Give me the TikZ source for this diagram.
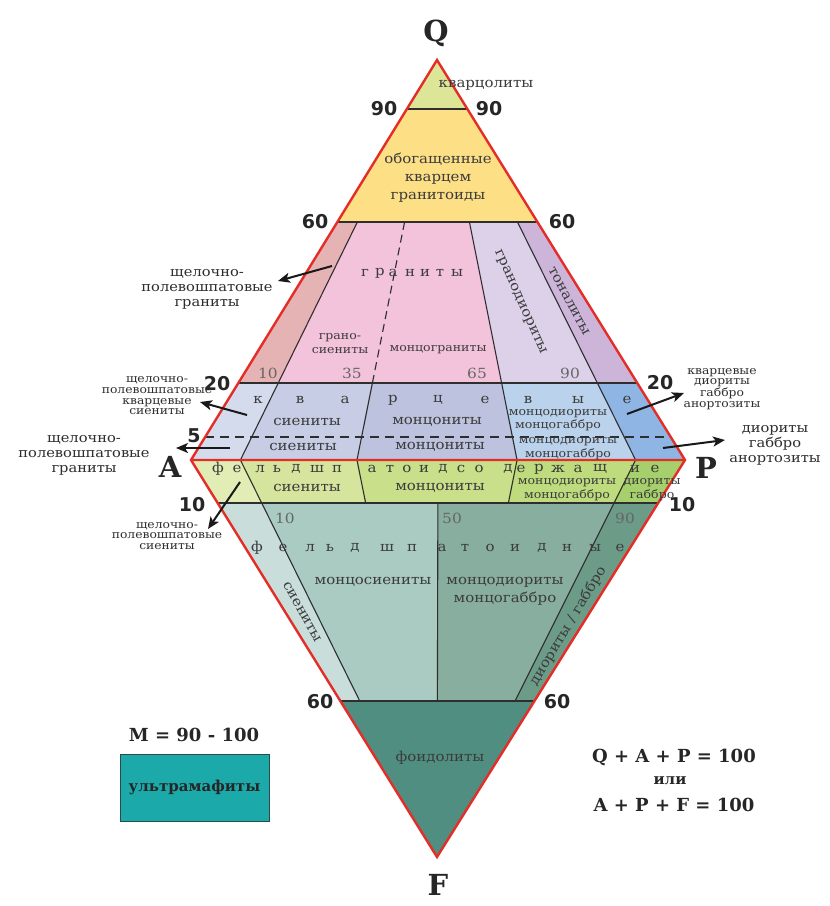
\documentclass[tikz,border=0pt]{standalone}
\usepackage{fontspec}
\usetikzlibrary{calc,arrows.meta}
\newfontfamily\labf[FakeStretch=1.1]{DejaVu Serif}
\newfontfamily\numf{DejaVu Sans}
\newfontfamily\vtxf{DejaVu Serif}
\definecolor{txt}{HTML}{3C3C3C}
\definecolor{sidec}{HTML}{2E2E2E}
\definecolor{gtxt}{HTML}{666666}
\definecolor{redl}{HTML}{E42D27}
\definecolor{divc}{HTML}{2E2E2E}
\definecolor{cQz}{HTML}{DDE596}
\definecolor{cQg}{HTML}{FDDF86}
\definecolor{cAg}{HTML}{E6B3B5}
\definecolor{cGr}{HTML}{F3C3DC}
\definecolor{cGd}{HTML}{DDD1E9}
\definecolor{cTo}{HTML}{CDB5DA}
\definecolor{cqa}{HTML}{D4DBEC}
\definecolor{cqb}{HTML}{C6CDE4}
\definecolor{cqc}{HTML}{BDC2DE}
\definecolor{cqd}{HTML}{BAD2EC}
\definecolor{cqe}{HTML}{8EB5E3}
\definecolor{cfa}{HTML}{E2ECB5}
\definecolor{cfb}{HTML}{D6E59E}
\definecolor{cfc}{HTML}{CADF89}
\definecolor{cfd}{HTML}{BEDC7D}
\definecolor{cfe}{HTML}{A6D06B}
\definecolor{cla}{HTML}{C9DEDB}
\definecolor{clb}{HTML}{A9CBC2}
\definecolor{clc}{HTML}{88AE9F}
\definecolor{cld}{HTML}{6C9C88}
\definecolor{cFo}{HTML}{4F8E80}
\definecolor{cUm}{HTML}{1BA9AA}
\definecolor{boxb}{HTML}{2A4A50}
\tikzset{
  every node/.style={inner sep=0pt, outer sep=0pt, align=center},
  fL/.style={font=\labf\fontsize{13.6}{18}\selectfont, text=txt},
  fS/.style={font=\labf\fontsize{11.4}{13.5}\selectfont, text=txt},
  sideL/.style={font=\labf\fontsize{13.3}{15}\selectfont, text=sidec},
  sideS/.style={font=\labf\fontsize{11.2}{10.7}\selectfont, text=sidec},
  gnum/.style={font=\labf\fontsize{14}{14}\selectfont, text=gtxt},
  bnum/.style={font=\numf\bfseries\fontsize{19}{19}\selectfont, text=black!85},
  vtx/.style={font=\vtxf\bfseries\fontsize{29}{29}\selectfont, anchor=base, text=black!85},
  eqt/.style={font=\vtxf\bfseries\fontsize{18}{18}\selectfont, text=black!85},
  rimline/.style={draw=redl, line width=2.4pt, line join=miter},
  divline/.style={draw=divc, line width=1.1pt},
  arr/.style={-{Stealth[length=12pt,width=10pt,inset=3pt]}, line width=2pt, draw=black!90},
}
\begin{document}
\begin{tikzpicture}[x=1pt,y=-1pt]
\useasboundingbox (0,0) rectangle (830,906);
\fill[white] (0,0) rectangle (830,906);
% vertices
\coordinate (A) at (191,460);
\coordinate (P) at (685,460);
\coordinate (Q) at (437,60);
\coordinate (F) at (437,857);
\foreach \n/\t in {90/0.8775,60/0.595,20/0.1925,5/0.0575}{
  \coordinate (ql\n) at ($(A)!\t!(Q)$);
  \coordinate (qr\n) at ($(P)!\t!(Q)$);
}
\foreach \n/\t in {10/0.1083,60/0.607}{
  \coordinate (fl\n) at ($(A)!\t!(F)$);
  \coordinate (fr\n) at ($(P)!\t!(F)$);
}
\foreach \n/\r in {10/0.1,35/0.336,50/0.5,65/0.66,90/0.9}
  \coordinate (b\n) at ($(A)!\r!(P)$);
\foreach \n in {10,35,65,90}{
  \coordinate (ua\n) at ($(b\n)!0.595!(Q)$);
  \coordinate (ub\n) at ($(b\n)!0.1925!(Q)$);
}
\foreach \n in {10,35,50,65,90}{
  \coordinate (la\n) at ($(b\n)!0.1083!(F)$);
  \coordinate (lb\n) at ($(b\n)!0.607!(F)$);
}
% fills
\fill[cQz] (Q) -- (ql90) -- (qr90) -- cycle;
\fill[cQg] (ql90) -- (ql60) -- (qr60) -- (qr90) -- cycle;
\fill[cAg] (ql60) -- (ua10) -- (ub10) -- (ql20) -- cycle;
\fill[cGr] (ua10) -- (ua65) -- (ub65) -- (ub10) -- cycle;
\fill[cGd] (ua65) -- (ua90) -- (ub90) -- (ub65) -- cycle;
\fill[cTo] (ua90) -- (qr60) -- (qr20) -- (ub90) -- cycle;
\fill[cqa] (ql20) -- (ub10) -- (b10) -- (A) -- cycle;
\fill[cqb] (ub10) -- (ub35) -- (b35) -- (b10) -- cycle;
\fill[cqc] (ub35) -- (ub65) -- (b65) -- (b35) -- cycle;
\fill[cqd] (ub65) -- (ub90) -- (b90) -- (b65) -- cycle;
\fill[cqe] (ub90) -- (qr20) -- (P) -- (b90) -- cycle;
\fill[cfa] (A) -- (b10) -- (la10) -- (fl10) -- cycle;
\fill[cfb] (b10) -- (b35) -- (la35) -- (la10) -- cycle;
\fill[cfc] (b35) -- (b65) -- (la65) -- (la35) -- cycle;
\fill[cfd] (b65) -- (b90) -- (la90) -- (la65) -- cycle;
\fill[cfe] (b90) -- (P) -- (fr10) -- (la90) -- cycle;
\fill[cla] (fl10) -- (la10) -- (lb10) -- (fl60) -- cycle;
\fill[clb] (la10) -- (la50) -- (lb50) -- (lb10) -- cycle;
\fill[clc] (la50) -- (la90) -- (lb90) -- (lb50) -- cycle;
\fill[cld] (la90) -- (fr10) -- (fr60) -- (lb90) -- cycle;
\fill[cFo] (fl60) -- (fr60) -- (F) -- cycle;
% division lines
\draw[divline] (ql90) -- (qr90) (ql60) -- (qr60) (ql20) -- (qr20)
  (fl10) -- (fr10) (fl60) -- (fr60);
\draw[divline] (ua10) -- (b10) (ua65) -- (b65) (ua90) -- (b90) (ub35) -- (b35);
\draw[divline, dash pattern=on 8pt off 5pt] (ua35) -- (ub35);
\draw[divline, dash pattern=on 9pt off 6pt] (ql5) -- (qr5);
\draw[divline] (b10) -- (lb10) (b35) -- (la35) (b65) -- (la65) (b90) -- (lb90) (la50) -- (lb50);
\draw[rimline] (Q) -- (P) -- (F) -- (A) -- cycle (A) -- (P);
% vertex letters
\node[vtx] (lQ) at (436,41) {Q};
\node[vtx] (lA) at (170,477) {A};
\node[vtx] (lP) at (706,478) {P};
\node[vtx] (lF) at (438,895) {F};
% bold numbers
\node[bnum] (n90l) at (384,109) {90};
\node[bnum] (n90r) at (489,109) {90};
\node[bnum] (n60l) at (315,222) {60};
\node[bnum] (n60r) at (562,222) {60};
\node[bnum] (n20l) at (217,384) {20};
\node[bnum] (n20r) at (660,383) {20};
\node[bnum] (n5) at (194,436) {5};
\node[bnum] (n10l) at (192,505) {10};
\node[bnum] (n10r) at (682,505) {10};
\node[bnum] (n60bl) at (320,702) {60};
\node[bnum] (n60br) at (557,702) {60};
% grey numbers
\node[gnum] (g10) at (268,373) {10};
\node[gnum] (g35) at (352,373) {35};
\node[gnum] (g65) at (477,373) {65};
\node[gnum] (g90) at (570,373) {90};
\node[gnum] (h10) at (285,518) {10};
\node[gnum] (h50) at (452,518) {50};
\node[gnum] (h90) at (625,518) {90};
% field labels
\node[fL] (qzl) at (486,85) {кварцолиты};
\node[fL] (qrg) at (438,178) {обогащенные\\кварцем\\гранитоиды};
\foreach \x/\c [count=\i] in {365/г,380/р,393/а,410/н,425/и,440/т,457/ы}
  \node[fL] (gr\i) at (\x,273) {\c};
\node[fS] (grs) at (340,343.5) {грано-\\сиениты};
\node[fS] (mzg) at (438,350) {монцограниты};
\node[fL, rotate=-66] (grd) at (520,302) {гранодиориты};
\node[fL, rotate=-62] (ton) at (569,301) {тоналиты};
\foreach \x/\c [count=\i] in {258/к,300/в,345/а,393/р,438/ц,485/е,528/в,578/ы,627/е}
  \node[fL] (kv\i) at (\x,400) {\c};
\node[fL] (qs1) at (307,422) {сиениты};
\node[fL] (qm1) at (437,422) {монцониты};
\node[fS] (qd1) at (558,420) {монцодиориты\\монцогаббро};
\node[fL] (qs2) at (303,447) {сиениты};
\node[fL] (qm2) at (440,447) {монцониты};
\node[fS] (qd2) at (568,448.5) {монцодиориты\\монцогаббро};
\foreach \x/\c [count=\i] in {218/ф,237/е,260/л,277/ь,296/д,317/ш,337/п,372/а,390/т,407/о,424/и,443/д,461/с,479/о,508/д,521/е,539/р,558/ж,578/а,600/щ,635/и,655/е}
  \node[fL] (fs\i) at (\x,469) {\c};
\node[fL] (fb1) at (307,488) {сиениты};
\node[fL] (fb2) at (440,488) {монцониты};
\node[fS] (fb3) at (567,489.5) {монцодиориты\\монцогаббро};
\node[fS] (fb4) at (652,489.5) {диориты\\габбро};
\foreach \x/\c [count=\i] in {257/ф,283/е,310/л,330/ь,355/д,387/ш,412/п,442/а,465/т,490/о,515/и,542/д,567/н,595/ы,620/е}
  \node[fL] (fd\i) at (\x,548) {\c};
\node[fL, rotate=-61] (lsy) at (302,612) {сиениты};
\node[fL] (lms) at (373,582) {монцосиениты};
\node[fL] (lmd) at (505,591) {монцодиориты\\монцогаббро};
\node[fL, rotate=59] (ldg) at (568,626) {диориты / габбро};
\node[fL] (fol) at (440,758) {фоидолиты};
% side labels
\node[sideL] (sAG) at (207,289) {щелочно-\\полевошпатовые\\граниты};
\node[sideS] (sAQ) at (157,396) {щелочно-\\полевошпатовые\\кварцевые\\сиениты};
\node[sideL] (sAS) at (84,455) {щелочно-\\полевошпатовые\\граниты};
\node[sideS] (sAF) at (167,536) {щелочно-\\полевошпатовые\\сиениты};
\node[sideS] (sQD) at (722,389) {кварцевые\\диориты\\габбро\\анортозиты};
\node[sideL] (sDG) at (775,445) {диориты\\габбро\\анортозиты};
% arrows
\coordinate (a1s) at (332,266); \coordinate (a1e) at (278,281);
\coordinate (a2s) at (247,415); \coordinate (a2e) at (200,402);
\coordinate (a3s) at (230,448); \coordinate (a3e) at (176,448);
\coordinate (a4s) at (240,482); \coordinate (a4e) at (208,529);
\coordinate (a5s) at (627,414); \coordinate (a5e) at (684,393);
\coordinate (a6s) at (663,448); \coordinate (a6e) at (725,440);
\draw[arr] (a1s) -- (a1e);
\draw[arr] (a2s) -- (a2e);
\draw[arr] (a3s) -- (a3e);
\draw[arr] (a4s) -- (a4e);
\draw[arr] (a5s) -- (a5e);
\draw[arr] (a6s) -- (a6e);
% legend
\node[eqt] (mlab) at (194,735) {M = 90 - 100};
\node[draw=boxb, line width=1pt, fill=cUm, minimum width=149pt, minimum height=67pt,
      font=\vtxf\bfseries\fontsize{15}{15}\selectfont, text=black!85] (um) at (194.5,787.5) {ультрамафиты};
\node[eqt] (eq1) at (674,757) {Q + A + P = 100};
\node[eqt, font=\vtxf\bfseries\fontsize{15}{15}\selectfont] (eq2) at (670,781) {или};
\node[eqt] (eq3) at (674,805) {A + P + F = 100};
\end{tikzpicture}
\end{document}
